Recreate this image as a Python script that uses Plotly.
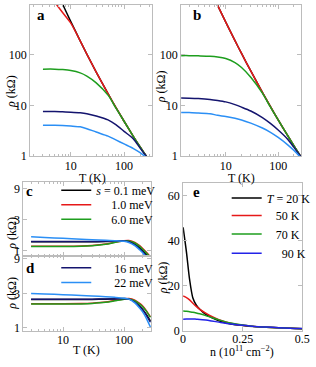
import plotly.graph_objects as go

W, H = 316, 367
def px(x): return x / W
def py(y): return 1 - y / H

# ---------------- data ----------------
# panel a
T_a = [3, 5, 7, 10, 15, 20, 30, 50, 70, 100, 150, 200, 262]
a_black = [7200, 2150, 995, 450, 188, 103, 45.6, 17.1, 9.2, 4.9, 2.45, 1.53, 1.0]
a_red = [2200, 1080, 680, 420, 188, 103, 45.6, 17.1, 9.2, 4.9, 2.45, 1.53, 1.0]
a_green = [52, 52, 51, 49, 44, 38, 28, 16, 9.0, 4.9, 2.45, 1.53, 1.0]
a_navy = [7.6, 7.6, 7.5, 7.4, 7.2, 6.9, 6.2, 5.2, 4.2, 3.1, 2.2, 1.45, 1.0]
a_lblue = [4.1, 4.1, 4.05, 3.95, 3.8, 3.5, 3.0, 2.5, 2.1, 1.75, 1.42, 1.18, 0.95]

# panel b
T_b = [1.4, 2, 3, 5, 7, 10, 15, 20, 30, 50, 70, 100, 150, 200, 268]
b_black = [36500, 15700, 6140, 1950, 935, 439, 189, 106, 47.9, 18.2, 9.8, 5.2, 2.6, 1.61, 1.0]
b_red = [36500, 15700, 6140, 1950, 935, 439, 189, 106, 47.9, 18.2, 9.8, 5.2, 2.6, 1.61, 1.0]
b_green = [96, 96, 95, 93, 90, 84, 70, 56, 36, 17.5, 9.6, 5.2, 2.6, 1.61, 1.0]
b_navy = [14, 13.9, 13.7, 13.2, 12.6, 11.8, 10.4, 9.3, 7.8, 5.8, 4.5, 3.3, 2.2, 1.5, 1.0]
b_lblue = [7.3, 7.25, 7.1, 6.9, 6.4, 6.1, 5.6, 5.2, 4.5, 3.6, 3.0, 2.35, 1.7, 1.3, 0.95]

# panels c and d
T_cd = [3, 5, 10, 20, 30, 50, 70, 100, 120, 150, 180, 200, 230, 270]
c_black = [1.36, 1.36, 1.36, 1.36, 1.36, 1.37, 1.39, 1.41, 1.38, 1.25, 1.10, 1.00, 0.86, 0.72]
c_red = [1.16, 1.16, 1.16, 1.17, 1.19, 1.25, 1.33, 1.41, 1.42, 1.33, 1.18, 1.08, 0.94, 0.79]
c_green = [1.15, 1.15, 1.15, 1.16, 1.18, 1.24, 1.32, 1.40, 1.40, 1.30, 1.15, 1.05, 0.92, 0.78]
c_navy = [1.37, 1.37, 1.37, 1.37, 1.37, 1.38, 1.39, 1.40, 1.36, 1.22, 1.06, 0.96, 0.82, 0.70]
c_lblue = [1.62, 1.58, 1.53, 1.48, 1.46, 1.43, 1.41, 1.38, 1.32, 1.18, 1.02, 0.93, 0.79, 0.66]

d_black = [2.48, 2.48, 2.48, 2.48, 2.48, 2.50, 2.52, 2.55, 2.52, 2.30, 2.00, 1.82, 1.55, 1.25]
d_red = [2.16, 2.16, 2.16, 2.17, 2.20, 2.28, 2.40, 2.52, 2.55, 2.42, 2.18, 2.02, 1.75, 1.42]
d_green = [2.14, 2.14, 2.14, 2.15, 2.18, 2.26, 2.37, 2.50, 2.52, 2.38, 2.14, 1.98, 1.72, 1.40]
d_navy = [2.50, 2.50, 2.50, 2.50, 2.50, 2.51, 2.52, 2.54, 2.50, 2.28, 1.98, 1.80, 1.52, 1.20]
d_lblue = [3.00, 2.95, 2.88, 2.80, 2.76, 2.70, 2.65, 2.58, 2.50, 2.22, 1.88, 1.68, 1.38, 1.03]

# panel e
n_e = [0, 0.014, 0.027, 0.041, 0.055, 0.07, 0.095, 0.12, 0.15, 0.2, 0.25, 0.3, 0.35, 0.4, 0.45, 0.5]
e_20K = [46, 35, 23, 14.6, 11.5, 9.6, 7.3, 5.9, 4.5, 3.1, 2.4, 1.9, 1.6, 1.35, 1.15, 1.0]
e_50K = [15.5, 14.8, 13.8, 12.3, 10.9, 9.6, 7.9, 6.4, 5.0, 3.4, 2.5, 1.95, 1.6, 1.35, 1.15, 1.0]
e_70K = [8.8, 8.7, 8.5, 8.3, 8.0, 7.6, 6.8, 5.9, 4.9, 3.5, 2.6, 2.0, 1.65, 1.4, 1.2, 1.0]
e_90K = [5.2, 5.25, 5.3, 5.3, 5.2, 5.1, 4.8, 4.4, 3.9, 3.1, 2.5, 2.0, 1.7, 1.45, 1.2, 1.05]

NB = "\u00a0"
s_labels = ["<i>s</i> = 0.1 meV", NB * 5 + "1.0 meV", NB * 5 + "6.0 meV", NB * 6 + "16 meV", NB * 6 + "22 meV"]
T_labels = ["<i>T</i> = 20 K", NB * 3 + "50 K", NB * 3 + "70 K", NB * 5 + "90 K"]

log_minor = [2, 3, 4, 5, 6, 7, 8, 9, 20, 30, 40, 50, 60, 70, 80, 90, 200, 300, 400, 500, 600, 700, 800, 900]

# ---------------- style ----------------
BLACK, RED, GREEN, NAVY, LBLUE, BLUE = "#000000", "#e61919", "#1e9e1e", "#14146e", "#2b8ff5", "#2323e8"
FONT = "Liberation Serif"
FRAME = "#bcbcbc"
LW = 1.5

fig = go.Figure()

def add(x, y, color, xa, ya, name="", legend=None):
    fig.add_trace(go.Scatter(
        x=x, y=y, mode="lines", line=dict(color=color, width=LW, shape="spline", smoothing=0.8),
        xaxis=xa, yaxis=ya, name=name, showlegend=legend is not None,
        legend=legend if legend else "legend", hoverinfo="skip"))

# a
for ys, c in [(a_black, BLACK), (a_red, RED), (a_green, GREEN), (a_navy, NAVY), (a_lblue, LBLUE)]:
    add(T_a, ys, c, "x", "y")
# b
for ys, c in [(b_black, BLACK), (b_red, RED), (b_green, GREEN), (b_navy, NAVY), (b_lblue, LBLUE)]:
    add(T_b, ys, c, "x2", "y2")
# c
add(T_cd, c_black, BLACK, "x3", "y3", s_labels[0], "legend")
add(T_cd, c_red, RED, "x3", "y3", s_labels[1], "legend2")
add(T_cd, c_green, GREEN, "x3", "y3", s_labels[2], "legend3")
add(T_cd, c_navy, NAVY, "x3", "y3")
add(T_cd, c_lblue, LBLUE, "x3", "y3")
# d
add(T_cd, d_black, BLACK, "x4", "y4")
add(T_cd, d_red, RED, "x4", "y4")
add(T_cd, d_green, GREEN, "x4", "y4")
add(T_cd, d_navy, NAVY, "x4", "y4", s_labels[3], "legend4")
add(T_cd, d_lblue, LBLUE, "x4", "y4", s_labels[4], "legend5")
# e
add(n_e, e_20K, BLACK, "x5", "y5", T_labels[0], "legend6")
add(n_e, e_50K, RED, "x5", "y5", T_labels[1], "legend7")
add(n_e, e_70K, GREEN, "x5", "y5", T_labels[2], "legend8")
add(n_e, e_90K, BLUE, "x5", "y5", T_labels[3], "legend9")

tickfont = dict(family=FONT, size=12, color="black")

def axis(dom, rng, typ="linear", minor=None, **kw):
    d = dict(domain=dom, range=rng, type=typ, showline=True, linecolor=FRAME, linewidth=1,
             mirror="ticks", ticks="inside", ticklen=4, tickcolor=FRAME, tickwidth=1,
             showgrid=False, zeroline=False, tickfont=tickfont, fixedrange=True)
    if minor is not None:
        d["minor"] = dict(ticks="inside", ticklen=2, tickcolor=FRAME, tickwidth=1, showgrid=False, **minor)
    d.update(kw)
    return d

LM = dict(tickvals=log_minor)
layout = dict(
    width=W, height=H, margin=dict(l=0, r=0, t=0, b=0),
    paper_bgcolor="white", plot_bgcolor="white",
    xaxis=axis([px(28), px(154)], [0.236, 2.527], "log", LM, anchor="y", tickvals=[10, 100],
               ticktext=["10", "100"], ticklabelstandoff=-2),
    yaxis=axis([py(157), py(1)], [0, 2.98], "log", None, anchor="x", tickvals=[1, 10, 100], ticktext=["1", "10", "100"]),
    xaxis2=axis([px(184), px(308)], [0.15, 2.44], "log", LM, anchor="y2", tickvals=[10, 100],
                ticktext=["10", "100"], ticklabelstandoff=-2),
    yaxis2=axis([py(157), py(1)], [0, 2.98], "log", None, anchor="x2", tickvals=[1, 10, 100], ticktext=["1", "10", "100"]),
    xaxis3=axis([px(21), px(153)], [0.35, 2.444], "log", LM, anchor="y3", tickvals=[10, 100], showticklabels=False),
    yaxis3=axis([py(260), py(183)], [-0.09, 1.06], "log", None, anchor="x3", tickvals=[1, 3, 9], ticktext=["1", "3", "9"]),
    xaxis4=axis([px(21), px(153)], [0.35, 2.444], "log", LM, anchor="y4", tickvals=[10, 100],
                ticktext=["10", "100"], ticklabelstandoff=-2),
    yaxis4=axis([py(337), py(260)], [-0.04, 0.99], "log", None, anchor="x4", tickvals=[1, 3, 9], ticktext=["1", "3", "9"]),
    xaxis5=axis([px(186), px(309)], [0, 0.5], "linear", None, anchor="y5",
                tickvals=[0, 0.25, 0.5], ticktext=["0", "0.25", "0.5"], ticklabelstandoff=-3),
    yaxis5=axis([py(337), py(185)], [0, 65.5], "linear", None, anchor="x5",
                tickvals=[0, 20, 40, 60], ticktext=["0", "20", "40", "60"]),
)

# one legend per entry, placed like the reference keys
leg_pos = {
    "legend": (55, 192), "legend2": (55, 207), "legend3": (55, 222),
    "legend4": (55, 272), "legend5": (55, 287),
    "legend6": (231, 200), "legend7": (231, 218), "legend8": (231, 237), "legend9": (231, 257),
}
for k, (x, y) in leg_pos.items():
    layout[k] = dict(x=px(x), y=py(y), xanchor="left", yanchor="middle", bgcolor="rgba(0,0,0,0)",
                     borderwidth=0, font=dict(family=FONT, size=12, color="black"),
                     itemclick=False, itemdoubleclick=False)

fig.update_layout(**layout)

ann = []
def text(x, y, s, size=12, angle=0, bold=False):
    ann.append(dict(x=px(x), y=py(y), xref="paper", yref="paper", text=("<b>%s</b>" % s) if bold else s,
                    showarrow=False, textangle=angle, xanchor="center", yanchor="middle",
                    font=dict(family=FONT, size=size, color="black")))

for lab, x, y in [("a", 39, 11), ("b", 200, 11), ("c", 27, 193), ("d", 28, 272), ("e", 200, 194)]:
    text(x, y, lab, 15, bold=True)
rho = "<i>ρ</i> (kΩ)"
text(9, 90, rho, 12, -90)
text(164, 85, rho, 12, -90)
text(9, 236, rho, 12, -90)
text(9, 298, rho, 12, -90)
text(165, 282, rho, 12, -90)
text(92, 179, "T (K)", 12)
text(246, 179, "T (K)", 12)
text(86, 357, "T (K)", 12)
text(247, 358, "n (10<sup>11</sup> cm<sup>−2</sup>)", 12)
fig.update_layout(annotations=ann)

fig.write_html("out.html", config={"displayModeBar": False},
               post_script="document.body.style.margin='0px';document.body.style.overflow='hidden';")
